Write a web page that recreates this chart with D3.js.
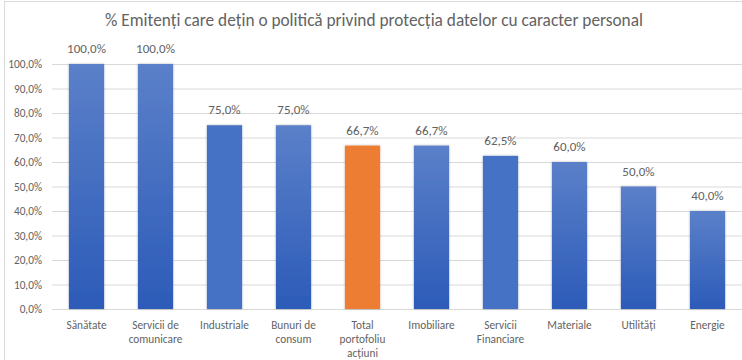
<!DOCTYPE html>
<html>
<head>
<meta charset="utf-8">
<script src="https://cdn.jsdelivr.net/npm/d3@7"></script>
<style>
  html, body { margin: 0; padding: 0; background: #fff; }
  svg { display: block; font-family: Carlito, Lato, "Open Sans", sans-serif; }
</style>
</head>
<body>
<svg id="chart" width="742" height="360"></svg>
<script>
// Sector categories (line breaks inside labels are explicit)
const categories = [
  "Sănătate",
  "Servicii de\ncomunicare",
  "Industriale",
  "Bunuri de\nconsum",
  "Total\nportofoliu\nacțiuni",
  "Imobiliare",
  "Servicii\nFinanciare",
  "Materiale",
  "Utilități",
  "Energie"
];
// Share of issuers with a personal-data protection policy (%)
const values = [100.0, 100.0, 75.0, 75.0, 66.7, 66.7, 62.5, 60.0, 50.0, 40.0];
// Which bar is the portfolio total (highlighted)
const highlight = [false, false, false, false, true, false, false, false, false, false];
// Bars painted flat instead of with the vertical gradient
const flat = [false, false, true, false, false, false, true, false, false, false];
const yTicks = [0, 10, 20, 30, 40, 50, 60, 70, 80, 90, 100];
const title = "% Emitenți care dețin o politică privind protecția datelor cu caracter personal";

const svg = d3.select("#chart");
const W = 742, H = 360;
const margin = { top: 64, right: 0, bottom: 51, left: 52 };
const textColor = "#636363";

const fmt = v => v.toFixed(1).replace(".", ",") + "%";

const x = d3.scaleBand()
  .domain(categories)
  .range([margin.left, margin.left + 690])
  .paddingInner(0.49)
  .paddingOuter(0.245);

const y = d3.scaleLinear()
  .domain([0, 100])
  .range([H - margin.bottom, margin.top]);

// Gradient and shadow definitions
const defs = svg.append("defs");
const grad = defs.append("linearGradient")
  .attr("id", "barGrad").attr("x1", 0).attr("y1", 0).attr("x2", 0).attr("y2", 1);
grad.append("stop").attr("offset", "0%").attr("stop-color", "#5b80c9");
grad.append("stop").attr("offset", "100%").attr("stop-color", "#2c5bb8");

const shadow = defs.append("filter").attr("id", "shadow")
  .attr("x", "-20%").attr("y", "-5%").attr("width", "140%").attr("height", "110%");
shadow.append("feDropShadow").attr("dx", 0).attr("dy", 0)
  .attr("stdDeviation", 0.8).attr("flood-color", "#000").attr("flood-opacity", 0.3);

// Chart frame
svg.append("rect")
  .attr("x", 4.5).attr("y", 1.5).attr("width", W + 10).attr("height", H + 10)
  .attr("fill", "none").attr("stroke", "#d9d9d9").attr("stroke-width", 1);

// Title
svg.append("text")
  .attr("x", 374).attr("y", 26)
  .attr("text-anchor", "middle")
  .attr("font-size", 17.3)
  .attr("fill", textColor)
  .text(title);

// Horizontal gridlines + y labels
const yAxis = d3.axisLeft(y)
  .tickValues(yTicks)
  .tickSize(-(W - margin.left))
  .tickPadding(10)
  .tickFormat(d => fmt(d));

const gy = svg.append("g")
  .attr("transform", `translate(${margin.left},0)`)
  .call(yAxis);
gy.select(".domain").remove();
gy.selectAll(".tick line").attr("stroke", "#d9d9d9").attr("stroke-width", 1);
gy.selectAll(".tick text").attr("fill", textColor).attr("font-size", 11.3)
  .attr("font-family", "Carlito, Lato, 'Open Sans', sans-serif");

// Bars
svg.append("g").selectAll("rect")
  .data(categories)
  .join("rect")
  .attr("x", d => x(d))
  .attr("width", x.bandwidth())
  .attr("y", (d, i) => y(values[i]))
  .attr("height", (d, i) => y(0) - y(values[i]))
  .attr("fill", (d, i) => highlight[i] ? "#ed7d31" : (flat[i] ? "#4472c4" : "url(#barGrad)"))
  .attr("filter", "url(#shadow)");

// Value labels
svg.append("g").selectAll("text")
  .data(categories)
  .join("text")
  .attr("x", d => x(d) + x.bandwidth() / 2)
  .attr("y", (d, i) => y(values[i]) - 11)
  .attr("text-anchor", "middle")
  .attr("font-size", 13)
  .attr("fill", textColor)
  .text((d, i) => fmt(values[i]));

// Category labels (multi-line)
const xl = svg.append("g").selectAll("text")
  .data(categories)
  .join("text")
  .attr("x", d => x(d) + x.bandwidth() / 2)
  .attr("y", y(0) + 20)
  .attr("text-anchor", "middle")
  .attr("font-size", 11.3)
  .attr("fill", textColor);
xl.selectAll("tspan")
  .data(d => d.split("\n").map(s => ({ s, cx: x(d) + x.bandwidth() / 2 })))
  .join("tspan")
  .attr("x", t => t.cx)
  .attr("dy", (t, i) => i === 0 ? 0 : 14)
  .text(t => t.s);
</script>
</body>
</html>
